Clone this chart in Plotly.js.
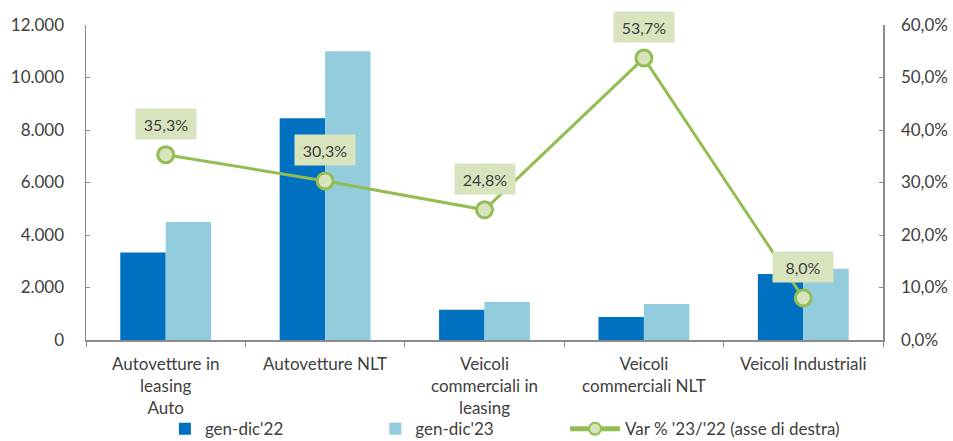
<!DOCTYPE html>
<html>
<head>
<meta charset="utf-8">
<script src="https://cdn.plot.ly/plotly-3.0.1.min.js"></script>
<style>html,body{margin:0;padding:0;background:#fff;}#chart{width:953px;height:441px;}</style>
</head>
<body>
<div id="chart"></div>
<script>
const categories = [
  "Autovetture in<br>leasing<br>Auto",
  "Autovetture NLT",
  "Veicoli<br>commerciali in<br>leasing",
  "Veicoli<br>commerciali NLT",
  "Veicoli Industriali"
];
const values2022 = [3330, 8450, 1150, 880, 2510];
const values2023 = [4500, 11000, 1450, 1370, 2710];
const varPct = [35.3, 30.3, 24.8, 53.7, 8.0];
const seriesNames = ["gen-dic'22", "gen-dic'23", "Var % '23/'22 (asse di destra)"];
const leftTicks = [0, 2000, 4000, 6000, 8000, 10000, 12000];
const rightTicks = [0, 10, 20, 30, 40, 50, 60];

const FONT = "Lato, 'Open Sans', sans-serif";
const TXT = "#404040";
const GREEN = "#93bd52";
const GREEN_FILL = "#d7e4bd";
const FS = 17;

const fmtPct = v => v.toFixed(1).replace(".", ",") + "%";

const traces = [
  {type: "bar", name: seriesNames[0], x: categories, y: values2022,
   marker: {color: "#0070c0"}, legend: "legend", hoverinfo: "skip"},
  {type: "bar", name: seriesNames[1], x: categories, y: values2023,
   marker: {color: "#93cddd"}, legend: "legend2", hoverinfo: "skip"},
  {type: "scatter", mode: "lines+markers", name: seriesNames[2], x: categories, y: varPct,
   yaxis: "y2", legend: "legend3",
   line: {color: GREEN, width: 3},
   marker: {size: 16, color: GREEN_FILL, line: {color: GREEN, width: 3}},
   hoverinfo: "skip"}
];

const annotations = categories.map((c, i) => ({
  x: c, y: varPct[i], xref: "x", yref: "y2",
  text: fmtPct(varPct[i]), showarrow: false, yshift: 31,
  bgcolor: GREEN_FILL, width: 58, height: 28, borderpad: 1,
  font: {family: FONT, size: 16, color: TXT}
}));

const legendBase = {orientation: "h", yanchor: "middle", y: -0.283, xanchor: "left",
  bgcolor: "rgba(0,0,0,0)", font: {family: FONT, size: FS, color: TXT}};

const layout = {
  width: 953, height: 441,
  margin: {l: 86, r: 70, t: 25, b: 101, autoexpand: false},
  paper_bgcolor: "#fff", plot_bgcolor: "#fff",
  separators: ",.",
  font: {family: FONT, size: FS, color: TXT},
  barmode: "group", bargap: 0.43, bargroupgap: 0,
  xaxis: {type: "category", showline: true, linecolor: "#8c8c8c", linewidth: 1.5,
    ticks: "outside", tickson: "boundaries", ticklen: 5, tickcolor: "#8c8c8c",
    showgrid: false, zeroline: false, ticklabelstandoff: 8,
    tickfont: {family: FONT, size: FS, color: TXT}},
  yaxis: {range: [0, 12000], tickmode: "array", tickvals: leftTicks, tickformat: ",d",
    showline: true, linecolor: "#8c8c8c", linewidth: 1.5,
    ticks: "inside", ticklen: 4, tickcolor: "#8c8c8c",
    showgrid: false, zeroline: false, ticklabelstandoff: 17,
    tickfont: {family: FONT, size: FS, color: TXT}},
  yaxis2: {range: [0, 60], tickmode: "array", tickvals: rightTicks, ticktext: rightTicks.map(fmtPct),
    overlaying: "y", side: "right",
    showline: true, linecolor: "#8c8c8c", linewidth: 1.5,
    ticks: "inside", ticklen: 4, tickcolor: "#8c8c8c",
    showgrid: false, zeroline: false, ticklabelstandoff: 13,
    tickfont: {family: FONT, size: FS, color: TXT}},
  legend: Object.assign({}, legendBase, {x: 0.099}),
  legend2: Object.assign({}, legendBase, {x: 0.363}),
  legend3: Object.assign({}, legendBase, {x: 0.601, itemwidth: 50, itemsizing: "constant"}),
  annotations: annotations,
  showlegend: true
};

Plotly.newPlot("chart", traces, layout, {displayModeBar: false, staticPlot: true});
</script>
</body>
</html>
